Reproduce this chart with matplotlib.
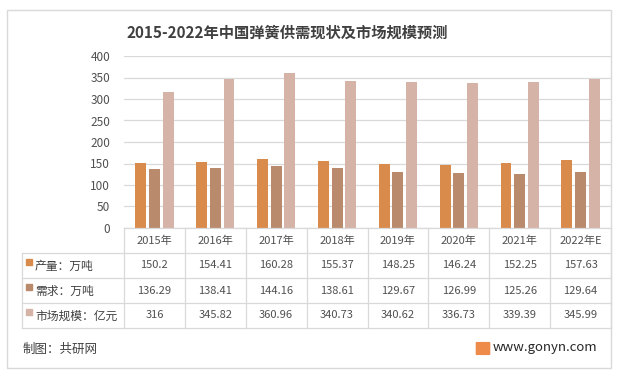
import matplotlib
matplotlib.use("Agg")
import matplotlib.pyplot as plt
from matplotlib.patches import Rectangle, FancyBboxPatch
from matplotlib.lines import Line2D

plt.rcParams['font.family'] = ['Noto Sans CJK SC', 'DejaVu Sans']

years = ["2015年", "2016年", "2017年", "2018年", "2019年", "2020年", "2021年", "2022年E"]
production = [150.2, 154.41, 160.28, 155.37, 148.25, 146.24, 152.25, 157.63]
demand = [136.29, 138.41, 144.16, 138.61, 129.67, 126.99, 125.26, 129.64]
market = [316, 345.82, 360.96, 340.73, 340.62, 336.73, 339.39, 345.99]
production_labels = ["150.2", "154.41", "160.28", "155.37", "148.25", "146.24", "152.25", "157.63"]
demand_labels = ["136.29", "138.41", "144.16", "138.61", "129.67", "126.99", "125.26", "129.64"]
market_labels = ["316", "345.82", "360.96", "340.73", "340.62", "336.73", "339.39", "345.99"]
series_names = ["产量：万吨", "需求：万吨", "市场规模：亿元"]
colors = ["#D98B4C", "#B98A6C", "#D5B3A7"]
title = "2015-2022年中国弹簧供需现状及市场规模预测"

W, H = 620, 377
fig = plt.figure(figsize=(W / 100, H / 100), dpi=100)

def fx(px):
    return px / W

def fy(py):
    return 1 - py / H

grid_c = "#D9D9D9"
text_c = "#404040"
num_c = "#505050"

# outer border
fig.patches.append(Rectangle((fx(7), fy(368)), fx(611) - fx(7), fy(10) - fy(368),
                             transform=fig.transFigure, fill=False, edgecolor=grid_c, lw=1))

left, right, top, bottom = 124, 611, 56, 228
ax = fig.add_axes([fx(left), fy(bottom), fx(right) - fx(left), fy(top) - fy(bottom)])
n = len(years)
x = list(range(n))
offs = [-0.225, 0.0, 0.225]
bw = 0.18
for s, (vals, c) in enumerate(zip([production, demand, market], colors)):
    ax.bar([i + offs[s] for i in x], vals, width=bw, color=c, zorder=3)
ax.set_xlim(-0.5, n - 0.5)
ax.set_ylim(0, 400)
ax.set_yticks(range(0, 401, 50))
ax.tick_params(axis='y', length=0, labelsize=8.5, labelcolor=num_c, pad=10)
ax.set_xticks([])
for sp in ax.spines.values():
    sp.set_visible(False)
ax.grid(axis='y', color=grid_c, lw=0.9, zorder=0)
ax.set_axisbelow(True)

# title
fig.text(fx(287), fy(33), title, ha='center', va='center', fontsize=11,
         fontweight='bold', color=text_c)

# table
row_lines = [228, 253, 278, 303, 328]
col_w = (right - left) / n

def hline(y, x0, x1):
    fig.add_artist(Line2D([fx(x0), fx(x1)], [fy(y), fy(y)], color=grid_c, lw=0.9,
                          transform=fig.transFigure))

def vline(x0, y0, y1):
    fig.add_artist(Line2D([fx(x0), fx(x0)], [fy(y0), fy(y1)], color=grid_c, lw=0.9,
                          transform=fig.transFigure))

hline(228, left, right)
for y in row_lines[1:]:
    hline(y, 22, right)
for i in range(n + 1):
    vline(left + i * col_w, 228, 328)
vline(22, 253, 328)

for i, yr in enumerate(years):
    fig.text(fx(left + (i + 0.5) * col_w), fy(241), yr, ha='center', va='center',
             fontsize=8, color=num_c, fontweight='medium')

rows = [production_labels, demand_labels, market_labels]
for r, (name, labels, c) in enumerate(zip(series_names, rows, colors)):
    yc = (row_lines[r + 1] + row_lines[r + 2]) / 2
    fig.patches.append(Rectangle((fx(26), fy(yc - 1)), fx(6), fy(0) - fy(6),
                                 transform=fig.transFigure, color=c))
    fig.text(fx(35), fy(yc + 1), name, ha='left', va='center', fontsize=8.5,
             color=text_c, fontweight='medium')
    for i, lab in enumerate(labels):
        fig.text(fx(left + (i + 0.5) * col_w), fy(yc), lab, ha='center', va='center',
                 fontsize=8, color=num_c, fontweight='medium')

# footer
fig.text(fx(23), fy(349), "制图：共研网", ha='left', va='center', fontsize=9,
         color=text_c, fontweight='medium')
fig.patches.append(FancyBboxPatch((fx(477), fy(354)), fx(12), fy(0) - fy(11),
                                  boxstyle="round,pad=0.001", transform=fig.transFigure,
                                  color="#EE8A4A"))
fig.text(fx(493), fy(348), "www.gonyn.com", ha='left', va='center', fontsize=9.5, color="#262626")

fig.savefig("out.png", dpi=100)
